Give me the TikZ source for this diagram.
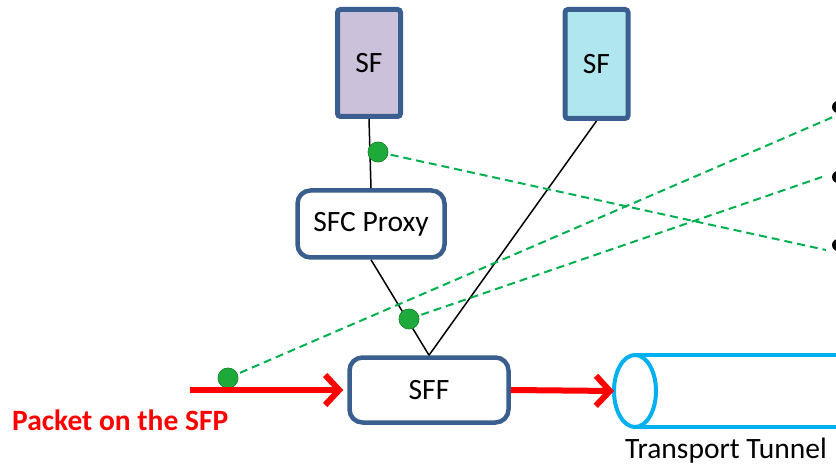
\documentclass[tikz,border=0pt]{standalone}
\usepackage{fontspec}
\setmainfont{Carlito}
\usetikzlibrary{arrows.meta}
\definecolor{boxline}{HTML}{3A5F8F}
\definecolor{sfpurple}{HTML}{CCC1DA}
\definecolor{sfcyan}{HTML}{B0E6EE}
\definecolor{dashgreen}{HTML}{00B050}
\definecolor{dotgreen}{HTML}{1DAA3A}
\definecolor{tunnelblue}{HTML}{00B0F0}
\definecolor{pktred}{HTML}{FF0000}
\tikzset{
  bigfont/.style={font=\fontsize{29.5}{34}\selectfont},
  boldfont/.style={font=\fontsize{29.5}{34}\selectfont\bfseries},
  sfbox/.style={draw=boxline, line width=5pt, rounded corners=3pt, minimum width=63pt, minimum height=107pt, inner sep=0pt, bigfont},
  rbox/.style={draw=boxline, line width=4.5pt, rounded corners=13pt, fill=white, inner sep=0pt, bigfont},
  link/.style={draw=black, line width=1.5pt},
  gdash/.style={draw=dashgreen, line width=2pt, dash pattern=on 8pt off 5pt},
  gdot/.style={circle, fill=dotgreen, draw=dotgreen!80!black, line width=0.5pt, minimum size=20pt, inner sep=0pt},
  redarrow/.style={draw=pktred, line width=6pt, -{Straight Barb[length=14pt, width=30pt, line width=6pt]}},
  bullet/.style={circle, fill=black, minimum size=12pt, inner sep=0pt},
}
\begin{document}
\begin{tikzpicture}[x=1pt, y=-1pt]
\useasboundingbox (0,0) rectangle (836,465);
\clip (0,0) rectangle (836,465);

% boxes
\node[sfbox, fill=sfpurple] (sf1) at (369,63) {SF};
\node[sfbox, fill=sfcyan, minimum height=109pt] (sf2) at (596.5,64) {SF};
\node[rbox, minimum width=147pt, minimum height=67pt] (proxy) at (371,224) {SFC Proxy};
\node[rbox, minimum width=159pt, minimum height=65pt] (sff) at (429,390) {SFF};

% black links
\draw[link] (sf1.south) -- (proxy.north);
\draw[link] (proxy.south) -- (sff.north);
\draw[link] (sf2.south) -- (sff.north);

% bullets (cut off at the right edge)
\node[bullet] (b1) at (838,107) {};
\node[bullet] (b2) at (838,177) {};
\node[bullet] (b3) at (838,245) {};

% green dots
\node[gdot] (d1) at (378,152) {};
\node[gdot] (d2) at (409,319) {};
\node[gdot] (d3) at (228,378) {};

\coordinate (e1) at (826,250);
\coordinate (e2) at (833,117);
\coordinate (e3) at (822,177);
\draw[gdash] (d1.center) -- (e1);
\draw[gdash] (d3.center) -- (e2);
\draw[gdash] (d2.center) -- (e3);
\node[gdot] at (d1) {};
\node[gdot] at (d2) {};
\node[gdot] at (d3) {};

% tunnel
\draw[tunnelblue, line width=4pt] (635,355) -- (850,355);
\draw[tunnelblue, line width=4pt] (635,427) -- (850,427);
\draw[tunnelblue, line width=4pt, fill=white] (635,391) ellipse [x radius=21pt, y radius=36pt];
\coordinate (tunnel) at (614,391);
\node[anchor=base, bigfont, inner sep=0pt] (tlabel) at (726,458) {Transport Tunnel};

% red arrows
\coordinate (pin) at (190,390);
\draw[redarrow] (pin) -- ([xshift=-4pt]sff.west);
\draw[redarrow] (sff.east) -- (tunnel);
\node[anchor=base west, text=pktred, boldfont, inner sep=0pt] (plabel) at (12,430) {Packet on the SFP};
\end{tikzpicture}
\end{document}
